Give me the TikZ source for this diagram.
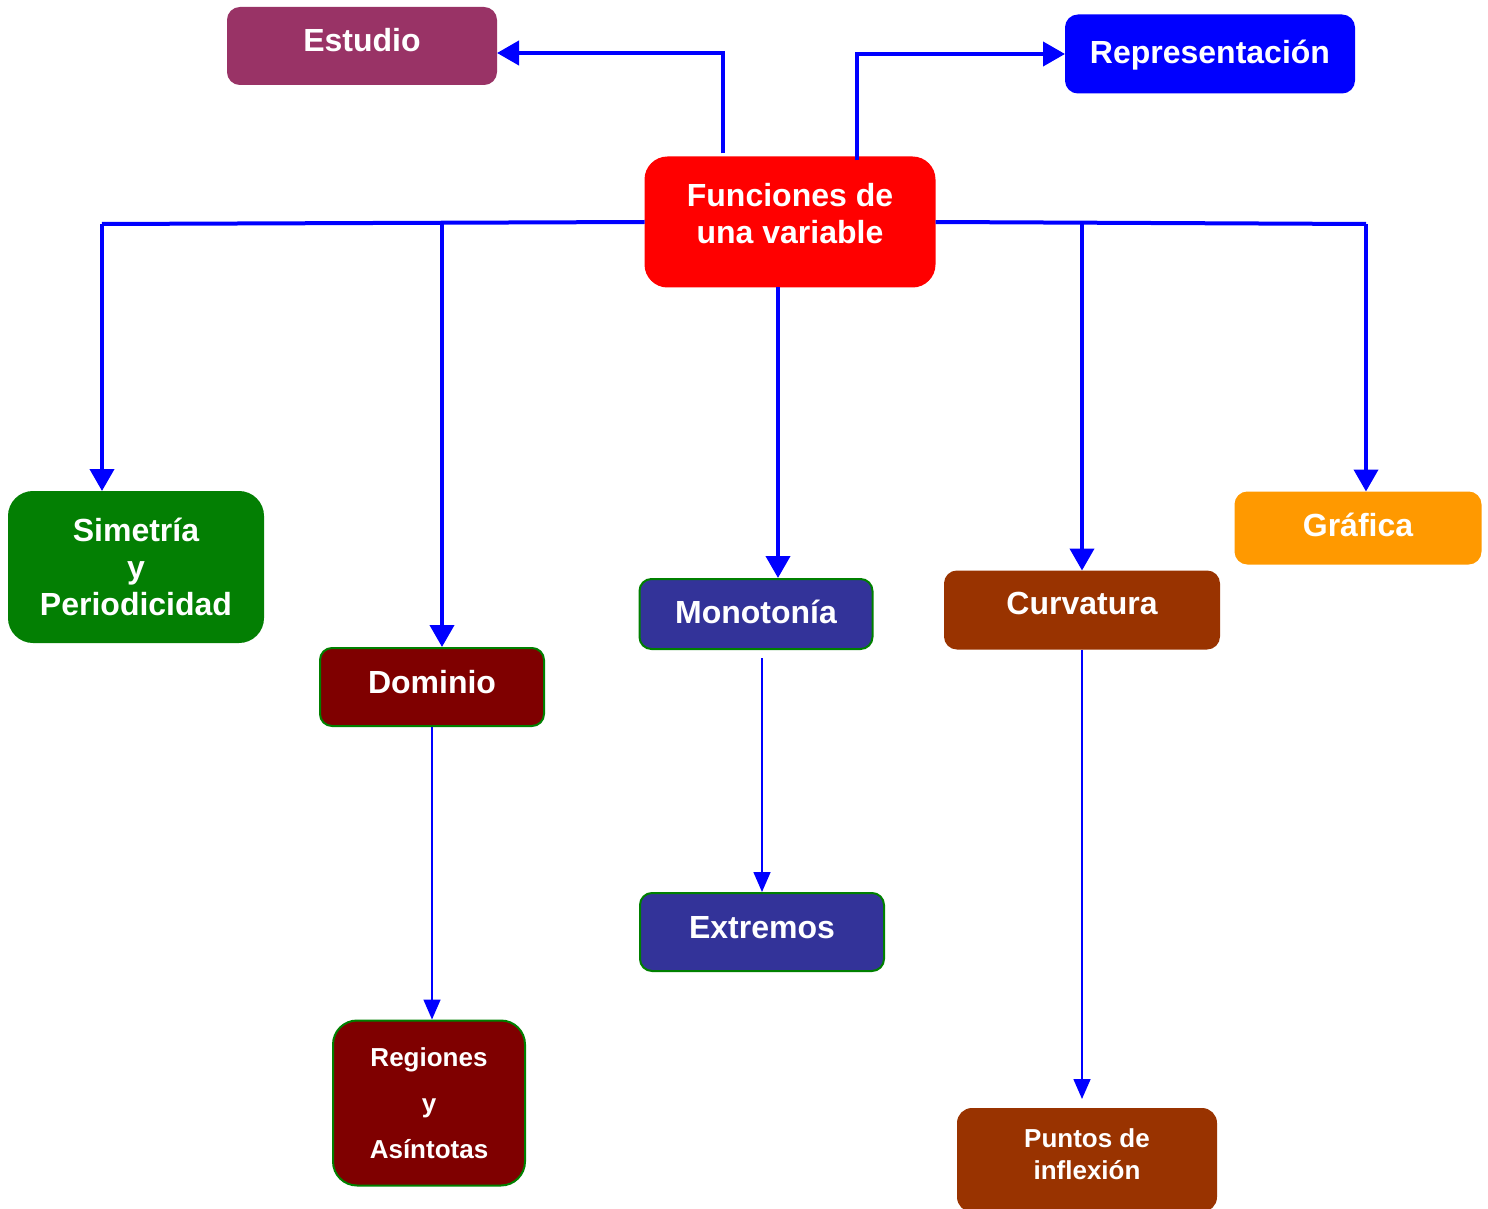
\documentclass[tikz,border=0pt]{standalone}
\usepackage{fontspec}
\setmainfont{Liberation Sans}
\usetikzlibrary{arrows.meta}
\definecolor{cest}{HTML}{993366}
\definecolor{crep}{HTML}{0000FF}
\definecolor{cfun}{HTML}{FF0000}
\definecolor{csim}{HTML}{037F03}
\definecolor{cdom}{HTML}{7F0000}
\definecolor{cmon}{HTML}{333399}
\definecolor{ccur}{HTML}{993300}
\definecolor{cgra}{HTML}{FF9900}
\definecolor{cedge}{HTML}{008000}
\definecolor{cline}{HTML}{0000FF}

\begin{document}
\begin{tikzpicture}[x=0.5pt, y=-0.5pt, font=\bfseries\fontsize{16}{18.5}\selectfont, box/.style = {rounded corners=6pt, text=white, align=center, inner sep=0pt, line width=1pt}, edged/.style = {box, draw=cedge}, thick line/.style = {cline, line width=2pt}, big arrow/.style = {thick line, -{Triangle[length=11pt, width=12pt]}}, small arrow/.style = {cline, line width=0.8pt, -{Triangle[length=10pt, width=8.5pt]}}]
                \useasboundingbox (0,0) rectangle (1488,1209);
                \node[box, fill=cest, draw=cest, minimum width=134pt, minimum height=38pt, text depth=6pt] (est) at (362,46) {Estudio};
                \node[box, fill=crep, draw=crep, minimum width=144pt, minimum height=38.5pt, text depth=2pt] (rep) at (1210,54) {Representación};
                \node[box, fill=cfun, draw=cfun, rounded corners=11pt, minimum width=144.5pt, minimum height=64.5pt, text depth=9pt] (fun) at (790,222) {Funciones de\\una variable};
                \node[box, fill=csim, draw=csim, rounded corners=12pt, minimum width=127pt, minimum height=75pt] (sim) at (136,567) {Simetría\\y\\Periodicidad};
                \node[edged, fill=cdom, minimum width=112pt, minimum height=39pt, text depth=5pt] (dom) at (432,687) {Dominio};
                \node[edged, fill=cmon, minimum width=116.5pt, minimum height=35pt, text depth=2pt] (mon) at (756,614) {Monotonía};
                \node[box, fill=ccur, draw=ccur, minimum width=137pt, minimum height=38.5pt, text depth=7pt] (cur) at (1082,610) {Curvatura};
                \node[box, fill=cgra, draw=cgra, minimum width=122.5pt, minimum height=35.5pt, text depth=3pt] (gra) at (1358,528) {Gráfica};
                \node[edged, fill=cmon, minimum width=122pt, minimum height=39pt, text depth=5pt] (ext) at (762,932) {Extremos};
                \node[edged, fill=cdom, rounded corners=12pt, minimum width=96pt, minimum height=82.5pt, font=\bfseries\fontsize{13}{23}\selectfont] (reg) at (429,1103) {Regiones\\y\\Asíntotas};
                \node[box, fill=ccur, draw=ccur, rounded corners=7pt, minimum width=129pt, minimum height=51pt, text depth=6pt, font=\bfseries\fontsize{13}{16}\selectfont] (pun) at (1087,1160) {Puntos de\\inflexión};
                \coordinate (bl) at (102,224);
                \coordinate (br) at (1366,224);
                \draw[big arrow] ([xshift=-33.5pt, yshift=1.5pt]fun.north) |- ([yshift=-3.5pt]est.east);
                \draw[big arrow] ([xshift=33.5pt, yshift=-2pt]fun.north) |- (rep.west);
                \draw[thick line] (fun.west) -- (bl);
                \draw[thick line] (fun.east) -- (br);
                \draw[big arrow] (bl) -- (bl |- sim.north);
                \draw[big arrow] ([xshift=5pt]dom.north |- bl) -- ([xshift=5pt]dom.north);
                \draw[big arrow] ([xshift=-6pt]fun.south) -- ([xshift=-6pt]fun.south |- mon.north);
                \draw[big arrow] (cur.north |- br) -- (cur.north);
                \draw[big arrow] (br) -- (br |- gra.north);
                \draw[small arrow] ([yshift=-4pt]mon.south -| ext.north) -- (ext.north);
                \draw[small arrow] (dom.south) -- (dom.south |- reg.north);
                \draw[small arrow] (cur.south) -- ([yshift=4.5pt]cur.south |- pun.north);
            \end{tikzpicture}
\end{document}
